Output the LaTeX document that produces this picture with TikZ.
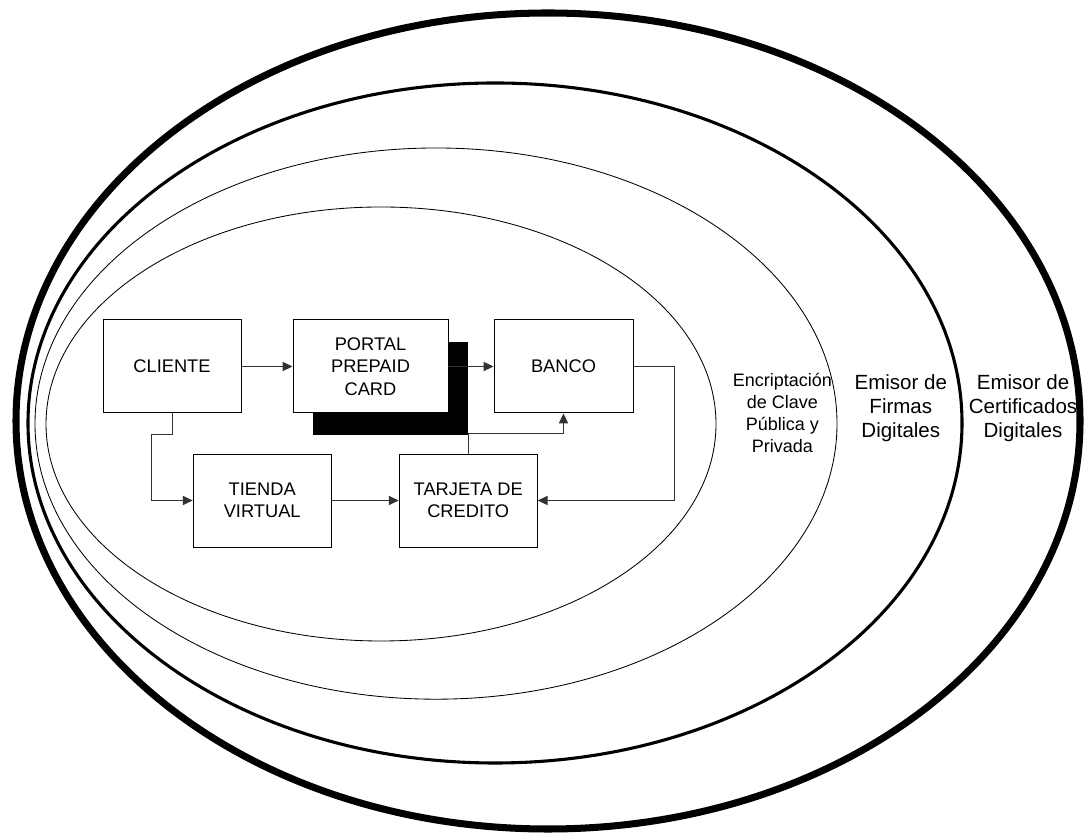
\documentclass[tikz,border=0pt]{standalone}
\usepackage{fontspec}
\setmainfont{Liberation Sans}
\usetikzlibrary{arrows.meta,shadows}

\begin{document}
\begin{tikzpicture}[
  box/.style={draw, line width=0.7pt, minimum width=3.45cm, minimum height=2.325cm,
              inner sep=0pt, align=center, font=\fontsize{13}{16}\selectfont},
  ringlabel/.style={align=center, font=\fontsize{12.8}{15.6}\selectfont},
  biglabel/.style={align=center, font=\fontsize{14.6}{17.2}\selectfont},
  link/.style={->, line width=0.7pt, draw=black!80},
  >={Triangle[length=7pt,width=6.5pt]}
]
  \useasboundingbox (0,0) rectangle (27.2,20.85);

  % rings
  \draw[line width=5pt] (13.7,10.325) ellipse [x radius=13.3, y radius=10.2];
  \draw[line width=2.2pt] (12.375,10.275) ellipse [x radius=11.675, y radius=8.5];
  \draw[line width=0.6pt] (10.9,10.26) ellipse [x radius=10.025, y radius=6.89];
  \draw[line width=0.6pt] (9.525,10.25) ellipse [x radius=8.375, y radius=5.425];

  \node[ringlabel] (cifra) at (19.56,10.52) {Encriptación\\de Clave\\Pública y\\Privada};
  \node[biglabel] (firmas) at (22.52,10.65) {Emisor de\\Firmas\\Digitales};
  \node[biglabel] (certif) at (25.575,10.65) {Emisor de\\Certificados\\Digitales};

  % boxes
  \node[box] (cliente) at (4.3,11.6875) {CLIENTE};
  \node[box, minimum width=3.875cm, fill=white,
        drop shadow={opacity=1, fill=black, shadow xshift=0.5cm, shadow yshift=-0.54cm}]
        (portal) at (9.2625,11.6875) {PORTAL\\PREPAID\\CARD};
  \node[box, minimum width=3.475cm] (banco) at (14.0875,11.6875) {BANCO};
  \node[box] (tienda) at (6.555,8.3375) {TIENDA\\VIRTUAL};
  \node[box] (tarjeta) at (11.705,8.3375) {TARJETA DE\\CREDITO};

  % links
  \draw[link] (cliente) -- (portal);
  \draw[link] (portal) -- (banco);
  \draw[link] (banco.east) -- ++(1.025,0) |- (tarjeta.east);
  \draw[link] (cliente.south) -- ++(0,-0.52) -- ++(-0.52,0) |- (tienda.west);
  \draw[link] (tienda) -- (tarjeta);
  \draw[link] (tarjeta.north) -- ++(0,0.51) -| (banco.south);
\end{tikzpicture}
\end{document}
